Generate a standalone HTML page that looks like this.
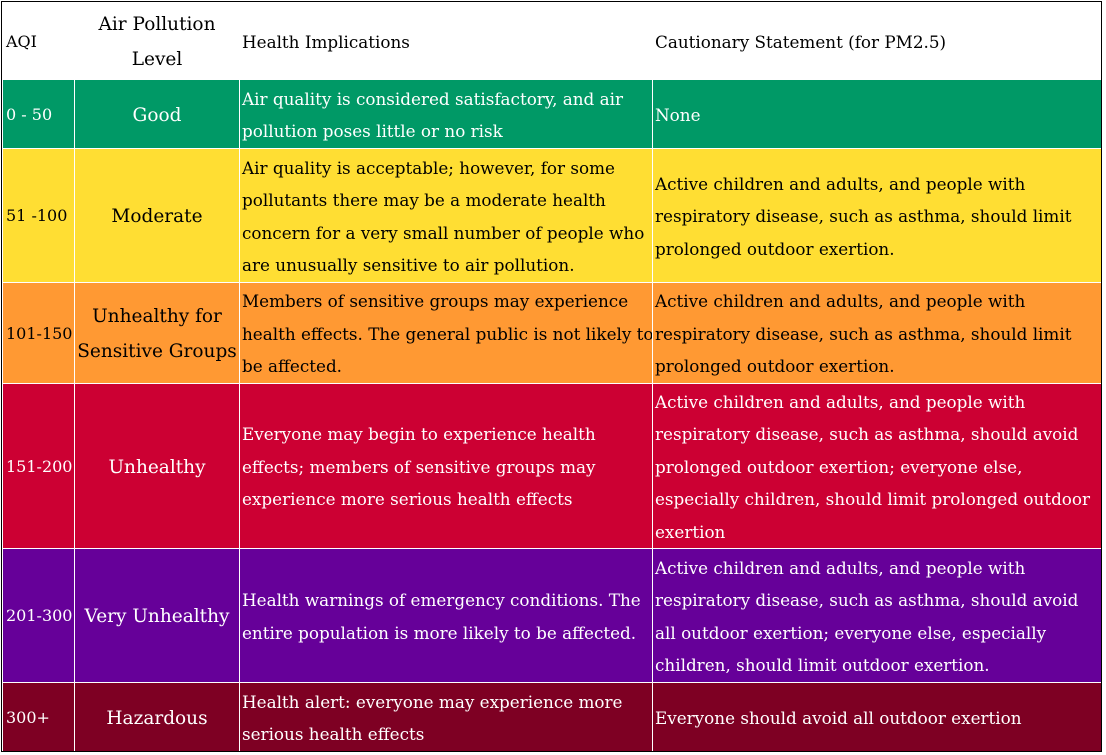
<!DOCTYPE html>
<html><head><meta charset="utf-8"><style>
body{margin:0;width:1106px;height:755px;background:#fff;position:relative;overflow:hidden;font-family:"DejaVu Serif",serif;}
#frame{position:absolute;left:1px;top:1px;width:1101px;height:751px;border:1px solid #000;box-sizing:border-box;}
.c{position:absolute;display:flex;align-items:center;box-sizing:border-box;padding-left:2px;padding-top:2px;font-size:16.8px;line-height:32.5px;white-space:nowrap;overflow:hidden;}
.n{font-size:16px;padding-left:3px;}
.ctr{justify-content:center;text-align:center;padding-left:0;font-size:18.5px;line-height:35px;}
.g{background:#009966;color:#fff}.y{background:#ffde33;color:#000}.o{background:#ff9933;color:#000}
.r{background:#cc0033;color:#fff}.p{background:#660099;color:#fff}.m{background:#7e0023;color:#fff}
</style></head><body>
<div id="frame"></div>
<div>
<div class="c n" style="left:3px;top:3px;width:71px;height:76px">AQI</div>
<div class="c ctr" style="left:75px;top:3px;width:164px;height:76px">Air Pollution<br>Level</div>
<div class="c" style="left:240px;top:3px;width:412px;height:76px">Health Implications</div>
<div class="c" style="left:653px;top:3px;width:448px;height:76px">Cautionary Statement (for PM2.5)</div>

<div class="c n g" style="left:3px;top:80px;width:71px;height:68px">0 - 50</div>
<div class="c ctr g" style="left:75px;top:80px;width:164px;height:68px">Good</div>
<div class="c g" style="left:240px;top:80px;width:412px;height:68px">Air quality is considered satisfactory, and air<br>pollution poses little or no risk</div>
<div class="c g" style="left:653px;top:80px;width:448px;height:68px">None</div>

<div class="c n y" style="left:3px;top:149px;width:71px;height:133px">51 -100</div>
<div class="c ctr y" style="left:75px;top:149px;width:164px;height:133px">Moderate</div>
<div class="c y" style="left:240px;top:149px;width:412px;height:133px">Air quality is acceptable; however, for some<br>pollutants there may be a moderate health<br>concern for a very small number of people who<br>are unusually sensitive to air pollution.</div>
<div class="c y" style="left:653px;top:149px;width:448px;height:133px">Active children and adults, and people with<br>respiratory disease, such as asthma, should limit<br>prolonged outdoor exertion.</div>

<div class="c n o" style="left:3px;top:283px;width:71px;height:100px">101-150</div>
<div class="c ctr o" style="left:75px;top:283px;width:164px;height:100px">Unhealthy for<br>Sensitive Groups</div>
<div class="c o" style="left:240px;top:283px;width:412px;height:100px">Members of sensitive groups may experience<br>health effects. The general public is not likely to<br>be affected.</div>
<div class="c o" style="left:653px;top:283px;width:448px;height:100px">Active children and adults, and people with<br>respiratory disease, such as asthma, should limit<br>prolonged outdoor exertion.</div>

<div class="c n r" style="left:3px;top:384px;width:71px;height:164px">151-200</div>
<div class="c ctr r" style="left:75px;top:384px;width:164px;height:164px">Unhealthy</div>
<div class="c r" style="left:240px;top:384px;width:412px;height:164px">Everyone may begin to experience health<br>effects; members of sensitive groups may<br>experience more serious health effects</div>
<div class="c r" style="left:653px;top:384px;width:448px;height:164px">Active children and adults, and people with<br>respiratory disease, such as asthma, should avoid<br>prolonged outdoor exertion; everyone else,<br>especially children, should limit prolonged outdoor<br>exertion</div>

<div class="c n p" style="left:3px;top:549px;width:71px;height:133px">201-300</div>
<div class="c ctr p" style="left:75px;top:549px;width:164px;height:133px">Very Unhealthy</div>
<div class="c p" style="left:240px;top:549px;width:412px;height:133px">Health warnings of emergency conditions. The<br>entire population is more likely to be affected.</div>
<div class="c p" style="left:653px;top:549px;width:448px;height:133px">Active children and adults, and people with<br>respiratory disease, such as asthma, should avoid<br>all outdoor exertion; everyone else, especially<br>children, should limit outdoor exertion.</div>

<div class="c n m" style="left:3px;top:683px;width:71px;height:68px">300+</div>
<div class="c ctr m" style="left:75px;top:683px;width:164px;height:68px">Hazardous</div>
<div class="c m" style="left:240px;top:683px;width:412px;height:68px">Health alert: everyone may experience more<br>serious health effects</div>
<div class="c m" style="left:653px;top:683px;width:448px;height:68px">Everyone should avoid all outdoor exertion</div>
</div>
</body></html>
